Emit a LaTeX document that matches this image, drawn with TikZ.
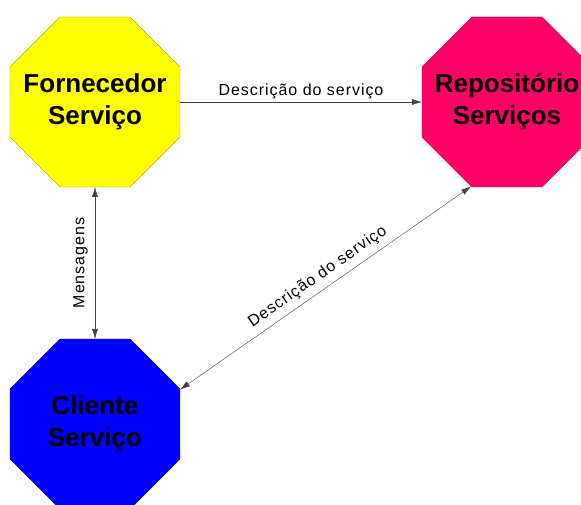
\documentclass[tikz,border=0pt]{standalone}
\usepackage{fontspec}
\setmainfont{Liberation Sans}
\newfontfamily\lblfont{Liberation Sans}[LetterSpace=6.0]
\usetikzlibrary{shapes.geometric,arrows.meta}
\definecolor{fornYellow}{RGB}{255,255,0}
\definecolor{repoPink}{RGB}{255,0,102}
\definecolor{cliBlue}{RGB}{0,0,255}
\tikzset{
	octa/.style={regular polygon,regular polygon sides=8,minimum size=184pt,inner sep=0pt,outer sep=0pt,
		label={[align=center,font=\fontsize{26}{32}\selectfont\bfseries]center:#1}},
	msg/.style={font=\lblfont\fontsize{16}{18}\selectfont,inner sep=3pt}
}
\begin{document}
\begin{tikzpicture}[x=1pt,y=1pt,>={Latex[length=10pt,width=6pt]}]
			\useasboundingbox (0,0) rectangle (581,505);
			\node[octa={Fornecedor\\Serviço},fill=fornYellow,draw=fornYellow!60!black] (forn) at (95,403) {};
			\node[octa={Repositório\\Serviços},fill=repoPink,draw=repoPink!80!black] (repo) at (507,403) {};
			\node[octa={Cliente\\Serviço},fill=cliBlue,draw=cliBlue!80!black] (cli) at (95,81) {};
			\draw[->,black!75] (forn.east) -- (repo.west) node[midway,above,msg,black] {Descrição do serviço};
			\draw[<->,black!75] (cli.north) -- (forn.south) node[midway,above,sloped,msg,black,inner sep=7pt] {Mensagens};
			\draw[<->,black!75] (cli.22.5) -- (repo.247.5) node[midway,above,sloped,msg,black,inner sep=6pt] {Descrição do serviço};
		\end{tikzpicture}
\end{document}
